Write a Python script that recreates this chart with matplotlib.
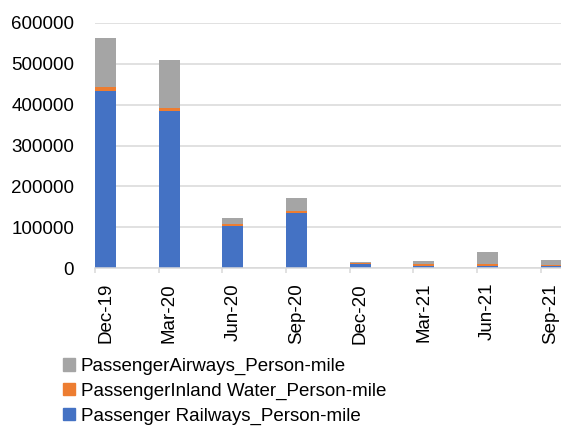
import matplotlib
matplotlib.use("Agg")
import matplotlib.pyplot as plt
from matplotlib.patches import Patch
import numpy as np

# Quarterly passenger person-miles by mode
quarters = ["Dec-19", "Mar-20", "Jun-20", "Sep-20", "Dec-20", "Mar-21", "Jun-21", "Sep-21"]
railways = [433000, 384000, 103000, 134000, 11000, 6500, 6500, 4500]
inland_water = [10000, 7500, 5000, 6500, 1500, 3000, 3500, 3000]
airways = [120000, 117000, 15500, 31000, 3000, 8000, 31000, 12000]

COLORS = {"rail": "#4472C4", "water": "#ED7D31", "air": "#A5A5A5", "grid": "#D9D9D9", "text": "#000000"}

plt.rcParams['font.family'] = ['Liberation Sans', 'DejaVu Sans']
FS = 13.5

fig = plt.figure(figsize=(5.61, 4.26), dpi=100)
ax = fig.add_axes([95 / 561, 157.7 / 426, 466 / 561, 245.6 / 426])

x = np.arange(len(quarters))
w = 0.33
rail = np.array(railways)
water = np.array(inland_water)
air = np.array(airways)

ax.bar(x, rail, width=w, align='edge', color=COLORS["rail"])
ax.bar(x, water, width=w, align='edge', bottom=rail, color=COLORS["water"])
ax.bar(x, air, width=w, align='edge', bottom=rail + water, color=COLORS["air"])

ax.set_ylim(0, 600000)
ax.set_xlim(0, 466 / 63.65)
ax.set_yticks(np.arange(0, 600001, 100000))
ax.yaxis.grid(True, color=COLORS["grid"], linewidth=1.1)
ax.set_axisbelow(True)

# labels sit under bar centres, tick marks at category boundaries
ax.set_xticks(x + w / 2)
ax.set_xticklabels(quarters, rotation=90, fontsize=FS)
ax.set_xticks(x, minor=True)
ax.tick_params(axis='x', which='major', length=0, pad=10.5)
ax.tick_params(axis='x', which='minor', length=3.6, width=1.1, color=COLORS["grid"])
ax.tick_params(axis='y', length=0, pad=15, labelsize=FS)

for spine in ['top', 'right', 'left']:
    ax.spines[spine].set_visible(False)
ax.spines['bottom'].set_color(COLORS["grid"])
ax.spines['bottom'].set_linewidth(1.1)

handles = [
    Patch(color=COLORS["air"], label="PassengerAirways_Person-mile"),
    Patch(color=COLORS["water"], label="PassengerInland Water_Person-mile"),
    Patch(color=COLORS["rail"], label="Passenger Railways_Person-mile"),
]
fig.legend(handles=handles, loc='upper left', bbox_to_anchor=(63 / 561, 1 - 358 / 426),
           frameon=False, fontsize=FS, handlelength=0.64, handleheight=0.64,
           handletextpad=0.3, labelspacing=0.4, borderpad=0, borderaxespad=0)

plt.savefig("out.png", dpi=100)
plt.close()
